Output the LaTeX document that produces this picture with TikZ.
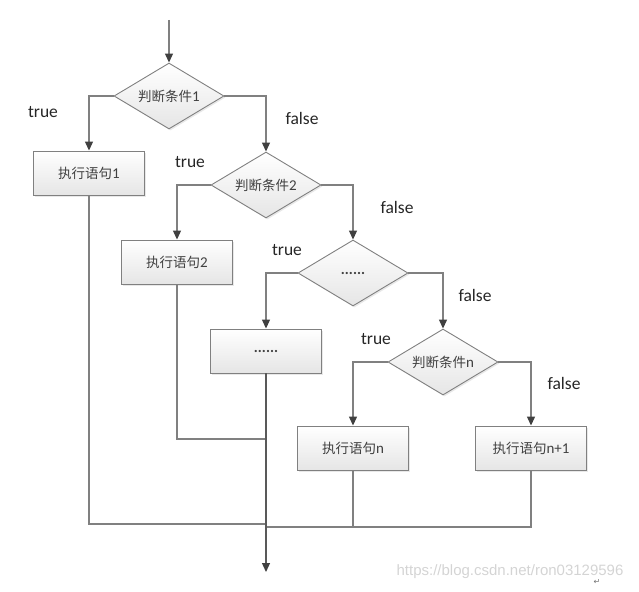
\documentclass[tikz,border=0pt]{standalone}
\usepackage{fontspec}
\setmainfont{Carlito}
\newfontfamily\cjk{Noto Sans CJK SC}
\newfontfamily\wmfont{Liberation Sans}
\newfontfamily\symfont{DejaVu Sans}
\usetikzlibrary{
  shapes.geometric,arrows.meta,shadows
}
\definecolor{linegray}{HTML}{808080}
\definecolor{tipgray}{HTML}{404040}
\definecolor{textgray}{HTML}{404040}
\definecolor{markgray}{HTML}{D4D4D4}
\newcommand\zh[1]{{\cjk\fontsize{13.5}{15}\selectfont #1}}

\begin{document}
\begin{tikzpicture}[x=1pt,y=-1pt,
  shade box/.style={draw=linegray,line width=0.9pt,top color=white,bottom color=black!10,
    drop shadow={opacity=0.18,shadow xshift=1.5pt,shadow yshift=-1.5pt},
    inner sep=0pt,text=textgray,font=\fontsize{15}{16}\selectfont},
  cond/.style={shade box,diamond,aspect=1.67,minimum width=110pt,minimum height=66pt},
  stmt/.style={shade box,rectangle,minimum width=111pt,minimum height=44pt},
  flow/.style={draw=linegray,line width=1.2pt},
  arr/.style={flow,-{Triangle[length=9pt,width=8pt,color=tipgray]}},
  lab/.style={font=\fontsize{17.5}{18}\selectfont,text=black!85}
]
\useasboundingbox (0,0) rectangle (639,591);

\node[cond] (c1) at (169,96) {\zh{判断条件}1};
\node[cond] (c2) at (266,185) {\zh{判断条件}2};
\node[cond] (c3) at (353,273) {\textbf{......}};
\node[cond] (cn) at (443,362) {\zh{判断条件}n};

\node[stmt] (s1) at (89,173) {\zh{执行语句}1};
\node[stmt] (s2) at (177,262) {\zh{执行语句}2};
\node[stmt] (s3) at (266,351) {\textbf{......}};
\node[stmt] (sn) at (353,448) {\zh{执行语句}n};
\node[stmt] (sn1) at (531,448) {\zh{执行语句}n+1};

\coordinate (start) at (169,20);
\coordinate (join1) at (266,524);
\coordinate (join2) at (266,439);
\coordinate (join3) at (266,527);
\coordinate (end) at (266,572);

\draw[arr] (start) -- (c1.north);
\draw[arr] (c1.west) -| (s1.north);
\draw[arr] (c1.east) -| (c2.north);
\draw[arr] (c2.west) -| (s2.north);
\draw[arr] (c2.east) -| (c3.north);
\draw[arr] (c3.west) -| (s3.north);
\draw[arr] (c3.east) -| (cn.north);
\draw[arr] (cn.west) -| (sn.north);
\draw[arr] (cn.east) -| (sn1.north);

\draw[flow] (s1.south) |- (join1);
\draw[flow] (s2.south) |- (join2);
\draw[flow] (sn1.south) |- (join3);
\draw[flow] (sn.south) |- (join3);
\draw[arr,draw=black!65] (s3.south) -- (end);

\node[lab] (t1) at (43,112) {true};
\node[lab] (f1) at (302,118) {false};
\node[lab] (t2) at (190,162) {true};
\node[lab] (f2) at (397,207) {false};
\node[lab] (t3) at (287,250) {true};
\node[lab] (f3) at (475,295) {false};
\node[lab] (t4) at (376,339) {true};
\node[lab] (f4) at (564,383) {false};

\node[text=markgray,font=\wmfont\fontsize{15}{16}\selectfont] (mark) at (510,572) {https://blog.csdn.net/ron03129596};
\node[text=black!55,font=\symfont\fontsize{8}{9}\selectfont] (ret) at (597,582) {↵};
\end{tikzpicture}
\end{document}
